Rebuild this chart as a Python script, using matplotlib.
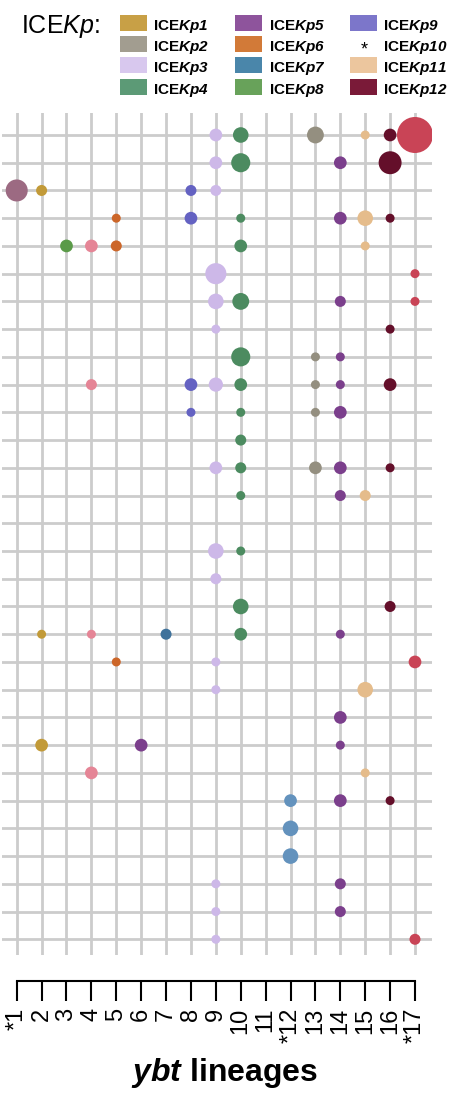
import matplotlib
matplotlib.use('Agg')
import matplotlib.pyplot as plt
from matplotlib.patches import Rectangle

plt.rcParams['font.family'] = 'Liberation Sans'
plt.rcParams['mathtext.fontset'] = 'custom'
plt.rcParams['mathtext.rm'] = 'Liberation Sans'
plt.rcParams['mathtext.it'] = 'Liberation Sans:italic'
plt.rcParams['mathtext.bf'] = 'Liberation Sans:italic:bold'

# one entry per bubble: grid row (1 = top), ybt lineage, number of genomes
rows = [1, 1, 1, 1, 1, 1,
        2, 2, 2, 2,
        3, 3, 3, 3,
        4, 4, 4, 4, 4, 4,
        5, 5, 5, 5, 5,
        6, 6,
        7, 7, 7, 7,
        8, 8,
        9, 9, 9,
        10, 10, 10, 10, 10, 10, 10,
        11, 11, 11, 11,
        12,
        13, 13, 13, 13, 13,
        14, 14, 14,
        16, 16,
        17,
        18, 18,
        19, 19, 19, 19, 19,
        20, 20, 20,
        21, 21,
        22,
        23, 23, 23,
        24, 24,
        25, 25, 25,
        26,
        27,
        28, 28,
        29, 29,
        30, 30]
lineages = [9, 10, 13, 15, 16, 17,
            9, 10, 14, 16,
            1, 2, 8, 9,
            5, 8, 10, 14, 15, 16,
            3, 4, 5, 10, 15,
            9, 17,
            9, 10, 14, 17,
            9, 16,
            10, 13, 14,
            4, 8, 9, 10, 13, 14, 16,
            8, 10, 13, 14,
            10,
            9, 10, 13, 14, 16,
            10, 14, 15,
            9, 10,
            9,
            10, 16,
            2, 4, 7, 10, 14,
            5, 9, 17,
            9, 15,
            14,
            2, 6, 14,
            4, 15,
            12, 14, 16,
            12,
            12,
            9, 14,
            9, 14,
            9, 17]
counts = [3, 5, 6, 1, 3, 31,
          3, 8, 3, 12,
          11, 2, 2, 2,
          1, 3, 1, 3, 5, 1,
          3, 3, 2, 3, 1,
          10, 1,
          5, 6, 2, 1,
          1, 1,
          8, 1, 1,
          2, 3, 4, 3, 1, 1, 3,
          1, 1, 1, 3,
          2,
          3, 2, 3, 3, 1,
          1, 2, 2,
          5, 1,
          2,
          5, 2,
          1, 1, 2, 3, 1,
          1, 1, 3,
          1, 5,
          3,
          3, 3, 1,
          3, 1,
          3, 3, 1,
          5,
          5,
          1, 2,
          1, 2,
          1, 2]

tick_labels = ['*1', '2', '3', '4', '5', '6', '7', '8', '9', '10', '11',
               '*12', '13', '14', '15', '16', '*17']

ice_names = ['1', '2', '3', '4', '5', '6', '7', '8', '9', '10', '11', '12']
ice_colors = ['#C8A046', '#A29D90', '#D8C8EE', '#5C9A76', '#8E549C', '#D27A38',
              '#4A86AA', '#68A25A', '#7C76CA', None, '#ECC69E', '#7A1A38']

lineage_colors = {1: '#9C6A82', 2: '#C29A38', 3: '#5A9A48', 4: '#E58596',
                  5: '#CC6629', 6: '#7B3F8C', 7: '#3F729B', 8: '#6462C2',
                  9: '#CDB8E8', 10: '#4C8B60', 12: '#6392BD', 13: '#948F80',
                  14: '#7B3F8C', 15: '#E5BC8B', 16: '#640F2A', 17: '#C94456'}

W, H = 449, 1096
fig = plt.figure(figsize=(W / 100, H / 100), dpi=100)


def fx(px):
    return px / W


def fy(py):
    return 1 - py / H


XLIM = (0.409, 17.683)

# bubble grid
ax = fig.add_axes([fx(2), fy(955), 430 / W, 842 / H])
ax.set_xlim(*XLIM)
ax.set_ylim(30.566, 0.207)
ax.set_xticks(range(1, 18))
ax.set_yticks(range(1, 31))
ax.grid(True, color='#CCCCCC', lw=2.0)
ax.set_axisbelow(True)
ax.tick_params(length=0, labelbottom=False, labelleft=False)
for s in ax.spines.values():
    s.set_visible(False)

sizes = [21 + 21 * c for c in counts]
ax.scatter(lineages, rows, s=sizes, c=[lineage_colors[l] for l in lineages],
           linewidths=0, zorder=3)

# bracket axis with lineage labels
ax2 = fig.add_axes([fx(2), fy(980.7), 430 / W, 0.0001])
ax2.set_xlim(*XLIM)
ax2.patch.set_visible(False)
for side in ['top', 'left', 'right']:
    ax2.spines[side].set_visible(False)
ax2.spines['bottom'].set_bounds(1, 17)
ax2.spines['bottom'].set_linewidth(1.5)
ax2.set_yticks([])
ax2.set_xticks(range(1, 18))
ax2.set_xticklabels(tick_labels, rotation=90, fontsize=17)
ax2.tick_params(axis='x', length=14.4, width=1.5, pad=5)

fig.text(0.5, fy(1081), r'$\mathbf{ybt}$ lineages', ha='center', va='baseline',
         fontsize=23, fontweight='bold')

# legend
fig.text(fx(20.7), fy(32.7), r'ICE$\mathit{Kp}$:', fontsize=18, va='baseline')
patch_x = [119.5, 235, 350]
text_x = [153.3, 269.3, 383]
for i, (name, col) in enumerate(zip(ice_names, ice_colors)):
    c, r = i // 4, i % 4
    yc = 23 + 21.2 * r
    if col is None:
        fig.text(fx(patch_x[c] + 14), fy(yc + 10), '*', ha='center', va='baseline',
                 fontsize=13)
    else:
        fig.add_artist(Rectangle((fx(patch_x[c]), fy(yc + 8)), 27.2 / W, 16 / H,
                                 transform=fig.transFigure, facecolor=col,
                                 edgecolor='none'))
    fig.text(fx(text_x[c]), fy(yc + 7), r'ICE$\mathbf{Kp' + name + '}$',
             va='baseline', fontsize=11, fontweight='bold')

fig.savefig('out.png', dpi=100)
